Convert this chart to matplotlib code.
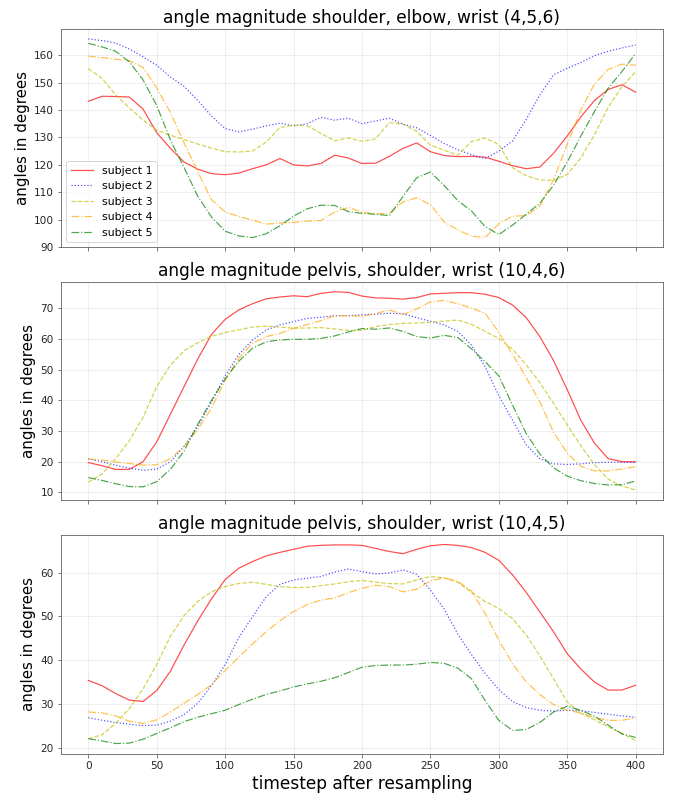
import numpy as np
import matplotlib
matplotlib.use("Agg")
import matplotlib.pyplot as plt

# timesteps after resampling (read every 10 steps)
timesteps = np.arange(0, 401, 10)

# angle magnitude shoulder, elbow, wrist (4,5,6)
sew_s1 = [143.2, 145, 144.9, 144.7, 140.3, 131.7, 126, 121, 118.4, 116.8, 116.4, 117, 118.6, 120, 122.3, 120,
          119.6, 120.5, 123.5, 122.5, 120.5, 120.6, 123.1, 126, 128, 124.8, 123.4, 123, 123.1, 122.8, 121.3,
          119.7, 118.6, 119.2, 124.2, 130.5, 137.5, 143.5, 147.5, 149.2, 146.5]
sew_s2 = [165.9, 165.3, 164.4, 162.2, 159.4, 156.3, 152, 148.6, 143.5, 137.8, 133.2, 132, 133, 134.2, 135.2,
          134.2, 135, 137.3, 136.3, 137, 135, 136, 137, 134.8, 133.5, 130.7, 127.8, 125.5, 123.7, 122.3, 125,
          128.7, 136.5, 145.5, 152.8, 155.2, 157.3, 159.8, 161.4, 162.6, 163.7]
sew_s3 = [155.1, 151.5, 145.5, 140.8, 136.3, 132.7, 130.8, 129.2, 127.6, 126.1, 124.8, 124.7, 125, 128.3, 133.6,
          134.5, 134.2, 131.5, 128.8, 129.8, 128.6, 129.5, 135.4, 134.8, 132.2, 127.2, 125.4, 123.5, 128.5, 129.8,
          127.4, 119, 116, 114.5, 114.3, 116.5, 122.5, 131, 141, 148.5, 153.9]
sew_s4 = [159.6, 159.1, 158.5, 158, 155.5, 148, 139.1, 128, 117.5, 107.3, 102.8, 101.2, 99.8, 98.4, 98.8, 99,
          99.5, 99.7, 102.8, 104.5, 102.8, 102.1, 102.4, 106.5, 108, 105.5, 99.2, 96.3, 94, 93.5, 98.5, 101.3,
          101.5, 105, 114.5, 127.5, 140, 149.5, 154.8, 156.7, 156.3]
sew_s5 = [164.3, 163, 161.4, 157.5, 151, 141.6, 129, 119, 108.5, 101, 95.8, 94.1, 93.5, 94.9, 97.8, 101.3, 104,
          105.3, 105.2, 103, 102.3, 102, 101.5, 108.5, 115.3, 117.4, 112.5, 107, 103.2, 97.5, 94.6, 98, 102, 106,
          112.5, 121, 130.5, 139.5, 148, 154, 160.6]

# angle magnitude pelvis, shoulder, wrist (10,4,6)
psw6_s1 = [19.7, 18.7, 17.5, 17.5, 20, 26.5, 35.5, 44.5, 53.5, 61.5, 66.4, 69.5, 71.5, 73.1, 73.7, 74.1, 73.8,
           74.9, 75.4, 75.2, 74, 73.4, 73.3, 73, 73.5, 74.7, 74.9, 75.1, 75.1, 74.6, 73.5, 71.1, 67, 60.8, 53,
           43.5, 33.5, 26, 21, 20, 20]
psw6_s2 = [20.9, 20, 18.8, 17.9, 17.2, 17.6, 20, 25, 31.5, 39.5, 48, 55, 59.7, 62.9, 64.6, 65.7, 66.7, 67.1,
           67.6, 67.6, 67.9, 68.1, 68.4, 68.2, 67, 65.8, 64.6, 62.5, 58, 51, 41.5, 33.6, 25.5, 21, 19.3, 19.1,
           19.3, 19.7, 19.8, 19.8, 19.7]
psw6_s3 = [13.3, 16, 21, 26.8, 34.5, 44.5, 51.5, 56.2, 58.8, 60.9, 62.1, 63, 63.9, 64.2, 63.9, 63.5, 63.6, 63.7,
           63.3, 62.8, 62.8, 64.1, 64.7, 65.1, 65.2, 65.5, 65.8, 66.2, 64.8, 62.5, 60.2, 56.7, 51.6, 45.8, 39,
           32, 25.2, 19, 14.3, 12.1, 10.8]
psw6_s4 = [20.9, 20.5, 19.9, 19.4, 18.9, 19, 21, 25, 30.5, 37.5, 46.5, 53.8, 58.6, 60.8, 61.8, 63.5, 64.7, 66,
           67.6, 67.6, 67.4, 68.3, 69.5, 68, 69.8, 72.1, 72.6, 71.5, 70.1, 68.4, 62.2, 55, 47.5, 39.5, 29.6, 22.8,
           18.5, 17, 17, 17.6, 18.4]
psw6_s5 = [14.8, 13.9, 12.8, 11.9, 11.8, 13.5, 17.5, 23.5, 32.2, 40, 47, 52.8, 57, 59.1, 59.7, 59.9, 59.9, 60.2,
           61, 62.3, 63.4, 63.2, 63.6, 62.5, 60.8, 60.3, 61.2, 60.5, 56.8, 52.6, 48, 38.5, 29.2, 22.5, 18, 15.3,
           13.8, 12.9, 12.4, 12.5, 13.7]

# angle magnitude pelvis, shoulder, wrist (10,4,5)
psw5_s1 = [35.4, 34.2, 32.4, 30.9, 30.6, 33.1, 37.5, 43.5, 49, 54, 58.4, 61, 62.5, 63.8, 64.6, 65.3, 66, 66.2,
           66.3, 66.3, 66.2, 65.5, 64.8, 64.3, 65.3, 66.1, 66.4, 66.2, 65.7, 64.6, 62.8, 59.5, 55.5, 51, 46.5,
           41.5, 38, 35, 33.2, 33.2, 34.3]
psw5_s2 = [26.9, 26.3, 25.8, 25.4, 25.1, 25.2, 26.1, 27.6, 30.2, 34.2, 39, 45.2, 49.9, 54.5, 57.3, 58.3, 58.7,
           59.1, 60.1, 60.8, 60.2, 59.7, 59.9, 60.6, 59.6, 56, 51.7, 46, 41.3, 37, 33.3, 30.6, 29.2, 28.6, 28.4,
           28.6, 28.5, 28.1, 27.7, 27.3, 27]
psw5_s3 = [22.1, 23, 25.6, 29, 33.5, 39, 45.5, 50.2, 53.4, 55.6, 56.8, 57.5, 57.8, 57.3, 56.8, 56.6, 56.6, 57,
           57.4, 57.9, 58.2, 57.8, 57.5, 57.4, 58.3, 59.1, 58.8, 57.8, 55.5, 53.4, 51.8, 49.5, 45.8, 41, 35.8,
           30.5, 27.9, 26.4, 24.8, 23.3, 21.7]
psw5_s4 = [28.2, 28, 27.3, 26.1, 25.6, 26.4, 28.2, 30.2, 32.2, 34.4, 37.7, 40.7, 43.7, 46.5, 49, 51.1, 52.7,
           53.7, 54.2, 55.4, 56.4, 57.1, 56.8, 55.6, 56.2, 58.1, 58.8, 58, 55.8, 50.7, 44.6, 39.2, 35.1, 32.2,
           29.9, 28.6, 28, 26.9, 26.3, 26.3, 26.9]
psw5_s5 = [22.1, 21.6, 21, 21.1, 22, 23.3, 24.6, 26, 27, 27.8, 28.6, 29.9, 31.1, 32.2, 33, 33.9, 34.6, 35.2, 36,
           37.2, 38.4, 38.8, 38.9, 38.9, 39.1, 39.5, 39.3, 38.2, 35.8, 30.8, 26.3, 24, 24.2, 25.8, 28.2, 29.5,
           28.6, 27.2, 25.2, 23.2, 22.4]

labels = ['subject 1', 'subject 2', 'subject 3', 'subject 4', 'subject 5']
colors = ['r', 'b', 'y', 'orange', 'g']
styles = ['-', ':', '--', '-.', '-.']

panels = [
    ('angle magnitude shoulder, elbow, wrist (4,5,6)', [sew_s1, sew_s2, sew_s3, sew_s4, sew_s5]),
    ('angle magnitude pelvis, shoulder, wrist (10,4,6)', [psw6_s1, psw6_s2, psw6_s3, psw6_s4, psw6_s5]),
    ('angle magnitude pelvis, shoulder, wrist (10,4,5)', [psw5_s1, psw5_s2, psw5_s3, psw5_s4, psw5_s5]),
]

fig = plt.figure(figsize=(673 / 72, 794 / 72), dpi=72)
boxes = [[0.0906, 0.6883, 0.8945, 0.2752],
         [0.0906, 0.3705, 0.8945, 0.2745],
         [0.0906, 0.0510, 0.8945, 0.2758]]

axes = []
for i, (title, series) in enumerate(panels):
    ax = fig.add_axes(boxes[i], sharex=axes[0] if axes else None)
    for vals, lab, col, ls in zip(series, labels, colors, styles):
        ax.plot(timesteps, vals, color=col, linestyle=ls, label=lab, alpha=0.7, linewidth=1.2)
    ax.set_title(title, fontsize=17)
    ax.set_ylabel('angles in degrees', fontsize=15)
    ax.grid(True, alpha=0.25)
    ax.tick_params(labelsize=10.5, color='0.35', labelcolor='0.15')
    for sp in ax.spines.values():
        sp.set_color('0.35')
    if i < 2:
        ax.tick_params(labelbottom=False)
    axes.append(ax)

axes[0].legend(loc='lower left', fontsize=11)
axes[2].set_xticks(np.arange(0, 401, 50))
axes[2].set_xlabel('timestep after resampling', fontsize=17)

fig.savefig('out.png', dpi=72)
